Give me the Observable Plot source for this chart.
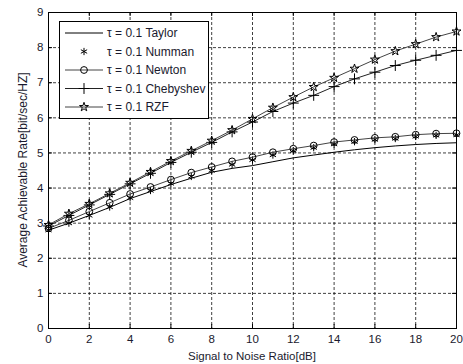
<!DOCTYPE html>
<html><head><meta charset="utf-8">
<script src="https://cdn.jsdelivr.net/npm/d3@7"></script>
<script src="https://cdn.jsdelivr.net/npm/@observablehq/plot@0.6"></script>
<style>body{margin:0;background:#fff} svg{display:block}</style>
</head><body><div id="chart"></div>
<script>
const snr = [0,1,2,3,4,5,6,7,8,9,10,11,12,13,14,15,16,17,18,19,20];
const taylor    = [2.80,3.00,3.22,3.45,3.70,3.90,4.10,4.28,4.45,4.56,4.64,4.75,4.86,4.94,5.02,5.09,5.15,5.20,5.24,5.27,5.29];
const numman    = [2.80,3.00,3.22,3.46,3.72,3.93,4.13,4.33,4.50,4.67,4.80,4.94,5.06,5.15,5.25,5.32,5.38,5.41,5.47,5.50,5.51];
const newton    = [2.85,3.08,3.33,3.58,3.83,4.03,4.24,4.44,4.60,4.76,4.88,5.02,5.12,5.21,5.31,5.37,5.43,5.46,5.52,5.55,5.56];
const chebyshev = [2.92,3.22,3.52,3.82,4.12,4.42,4.73,5.02,5.30,5.60,5.88,6.18,6.42,6.64,6.89,7.11,7.30,7.49,7.64,7.78,7.92];
const rzf       = [2.95,3.27,3.55,3.85,4.15,4.46,4.77,5.06,5.35,5.65,5.97,6.29,6.59,6.88,7.14,7.40,7.66,7.90,8.10,8.30,8.46];
const xTicks = [0,2,4,6,8,10,12,14,16,18,20];
const yTicks = [0,1,2,3,4,5,6,7,8,9];
const seriesNames = ["τ = 0.1 Taylor","τ = 0.1 Numman","τ = 0.1 Newton","τ = 0.1 Chebyshev","τ = 0.1 RZF"];
const seriesValues = [taylor, numman, newton, chebyshev, rzf];
const seriesSymbols = [null, "asterisk", "circle", "plus", "star"];
const seriesHasLine = [true, false, true, true, true];
const seriesStroke = ["#000", "#000", "#444", "#222", "#444"];
const xTitle = "Signal to Noise Ratio[dB]";
const yTitle = "Average Achievable Rate[bit/sec/HZ]";

const W = 463, H = 364, mL = 48, mR = 7, mT = 12, mB = 36;
const font = "'Liberation Sans', Arial, sans-serif";
const symR = {asterisk: 3.4, circle: 3.4, plus: 3.6, star: 2.8};

const marks = [];
marks.push(Plot.ruleX(xTicks.slice(1,-1), {x: d => d, stroke: "#000", strokeWidth: 1, strokeOpacity: 0.75, strokeDasharray: "3,2"}));
marks.push(Plot.ruleY(yTicks.slice(1,-1), {y: d => d, stroke: "#000", strokeWidth: 1, strokeOpacity: 0.75, strokeDasharray: "3,2"}));
seriesNames.forEach((name, k) => {
  const rows = seriesValues[k].map((v, i) => ({x: snr[i], y: v}));
  if (seriesHasLine[k]) marks.push(Plot.line(rows, {x: "x", y: "y", stroke: seriesStroke[k], strokeWidth: 1}));
  const s = seriesSymbols[k];
  if (s) marks.push(Plot.dot(rows, {x: "x", y: "y", symbol: () => s, r: symR[s], stroke: "#000", fill: "none", strokeWidth: 1}));
});
const ty = 4 / (H - mT - mB) * 9, tx = 4 / (W - mL - mR) * 20;
marks.push(Plot.ruleX(xTicks, {x: d => d, y1: 0, y2: ty, stroke: "#000"}));
marks.push(Plot.ruleX(xTicks, {x: d => d, y1: 9 - ty, y2: 9, stroke: "#000"}));
marks.push(Plot.ruleY(yTicks, {y: d => d, x1: 0, x2: tx, stroke: "#000"}));
marks.push(Plot.ruleY(yTicks, {y: d => d, x1: 20 - tx, x2: 20, stroke: "#000"}));
marks.push(Plot.frame({stroke: "#000"}));

const plot = Plot.plot({
  width: W, height: H, marginLeft: mL, marginRight: mR, marginTop: mT, marginBottom: mB,
  style: {fontFamily: font, fontSize: "11.5px", color: "#1a1a2e", background: "#fff"},
  x: {domain: [0, 20], ticks: xTicks, tickSize: 0, tickPadding: 6, label: null},
  y: {domain: [0, 9], ticks: yTicks, tickSize: 0, tickPadding: 5, label: null},
  marks
});
document.getElementById("chart").appendChild(plot);

const svg = d3.select(plot);
svg.append("text").attr("x", mL + (W - mL - mR) / 2).attr("y", 360)
  .style("text-anchor", "middle").attr("font-family", font).attr("font-size", 11.5).style("fill", "#1a1a2e").text(xTitle);
svg.append("text").attr("transform", `translate(27,${mT + (H - mT - mB) / 2}) rotate(-90)`)
  .style("text-anchor", "middle").attr("font-family", font).attr("font-size", 12).style("fill", "#1a1a2e").text(yTitle);

const lg = svg.append("g");
lg.append("rect").attr("x", 59.5).attr("y", 21.5).attr("width", 149).attr("height", 97)
  .style("fill", "#fff").style("stroke", "#000").style("stroke-width", 1);
const symMap = {asterisk: d3.symbolAsterisk, circle: d3.symbolCircle, plus: d3.symbolPlus, star: d3.symbolStar};
seriesNames.forEach((name, k) => {
  const y = 33 + k * 18.5;
  if (seriesHasLine[k]) lg.append("line").attr("x1", 65).attr("x2", 103).attr("y1", y).attr("y2", y).style("stroke", seriesStroke[k]);
  const s = seriesSymbols[k];
  if (s) {
    lg.append("path").attr("transform", `translate(84,${y})`)
      .attr("d", d3.symbol(symMap[s], Math.PI * symR[s] * symR[s])())
      .style("fill", "none").style("stroke", "#000");
  }
  lg.append("text").attr("x", 107).attr("y", y).attr("dy", "0.35em")
    .style("text-anchor", "start").attr("font-family", font).attr("font-size", 12).style("fill", "#1a1a2e").text(name);
});
</script>
</body></html>
